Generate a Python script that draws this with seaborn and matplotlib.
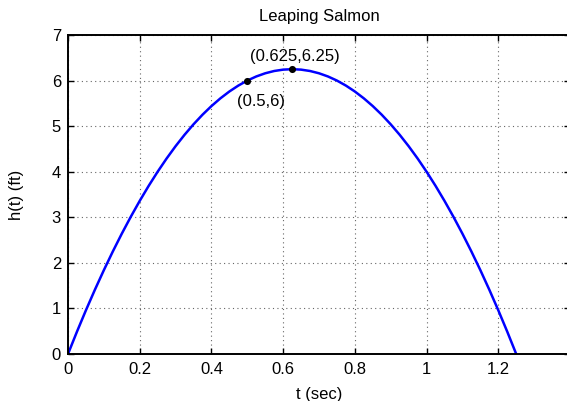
import numpy as np
import pandas as pd
import matplotlib
matplotlib.use("Agg")
import matplotlib.pyplot as plt
import seaborn as sns

# Height of the salmon over time
t_sec = [0.0, 0.025, 0.05, 0.075, 0.1, 0.125, 0.15, 0.175, 0.2, 0.225, 0.25,
         0.275, 0.3, 0.325, 0.35, 0.375, 0.4, 0.425, 0.45, 0.475, 0.5,
         0.525, 0.55, 0.575, 0.6, 0.625, 0.65, 0.675, 0.7, 0.725, 0.75,
         0.775, 0.8, 0.825, 0.85, 0.875, 0.9, 0.925, 0.95, 0.975, 1.0,
         1.025, 1.05, 1.075, 1.1, 1.125, 1.15, 1.175, 1.2, 1.225, 1.25]
h_ft = [0.0, 0.49, 0.96, 1.41, 1.84, 2.25, 2.64, 3.01, 3.36, 3.69, 4.0,
        4.29, 4.56, 4.81, 5.04, 5.25, 5.44, 5.61, 5.76, 5.89, 6.0,
        6.09, 6.16, 6.21, 6.24, 6.25, 6.24, 6.21, 6.16, 6.09, 6.0,
        5.89, 5.76, 5.61, 5.44, 5.25, 5.04, 4.81, 4.56, 4.29, 4.0,
        3.69, 3.36, 3.01, 2.64, 2.25, 1.84, 1.41, 0.96, 0.49, 0.0]

# Marked points
mark_t = [0.5, 0.625]
mark_h = [6.0, 6.25]
mark_labels = ["(0.5,6)", "(0.625,6.25)"]

x_ticks = [0, 0.2, 0.4, 0.6, 0.8, 1.0, 1.2]
x_tick_labels = ["0", "0.2", "0.4", "0.6", "0.8", "1", "1.2"]
y_ticks = [0, 1, 2, 3, 4, 5, 6, 7]

sns.set_theme(style="white")
plt.rcParams["font.family"] = ["Liberation Sans", "DejaVu Sans"]
plt.rcParams["font.size"] = 12
plt.rcParams["text.color"] = "black"
plt.rcParams["axes.labelcolor"] = "black"
plt.rcParams["xtick.color"] = "black"
plt.rcParams["ytick.color"] = "black"

fig = plt.figure(figsize=(5.67, 4.01), dpi=100)
ax = fig.add_axes([68 / 567, 47 / 401, 502 / 567, 319 / 401])

curve = pd.DataFrame({"t": t_sec, "h": h_ft})
sns.lineplot(data=curve, x="t", y="h", ax=ax, color="#0000ff", linewidth=1.8,
             sort=False, estimator=None)

points = pd.DataFrame({"t": mark_t, "h": mark_h})
sns.scatterplot(data=points, x="t", y="h", ax=ax, color="black", s=26,
                edgecolor="black", linewidth=0, zorder=5)

ax.annotate(mark_labels[0], (mark_t[0], mark_h[0]), xytext=(-7.5, -9.5),
            textcoords="offset points", ha="left", va="top", fontsize=12,
            color="black")
ax.annotate(mark_labels[1], (mark_t[1], mark_h[1]), xytext=(2, 4),
            textcoords="offset points", ha="center", va="bottom", fontsize=12,
            color="black")

ax.set_xlim(0, 1.4)
ax.set_ylim(0, 7)
ax.set_xticks(x_ticks)
ax.set_xticklabels(x_tick_labels)
ax.set_yticks(y_ticks)

ax.grid(True, linestyle=(0, (1, 3)), color="#666666", linewidth=0.8)
for spine in ax.spines.values():
    spine.set_color("black")
    spine.set_linewidth(1.4)
    spine.set_visible(True)

ax.tick_params(direction="in", length=4, width=1.0, colors="black",
               top=True, right=True, bottom=True, left=True,
               labelsize=12)
ax.tick_params(axis="x", pad=6)
ax.tick_params(axis="y", pad=5)

ax.set_title("Leaping Salmon", fontsize=12, pad=10, color="black")
ax.set_xlabel("t (sec)", fontsize=12, labelpad=7)
ax.set_ylabel("h(t) (ft)", fontsize=12, labelpad=20)

fig.savefig("out.png", dpi=100)
